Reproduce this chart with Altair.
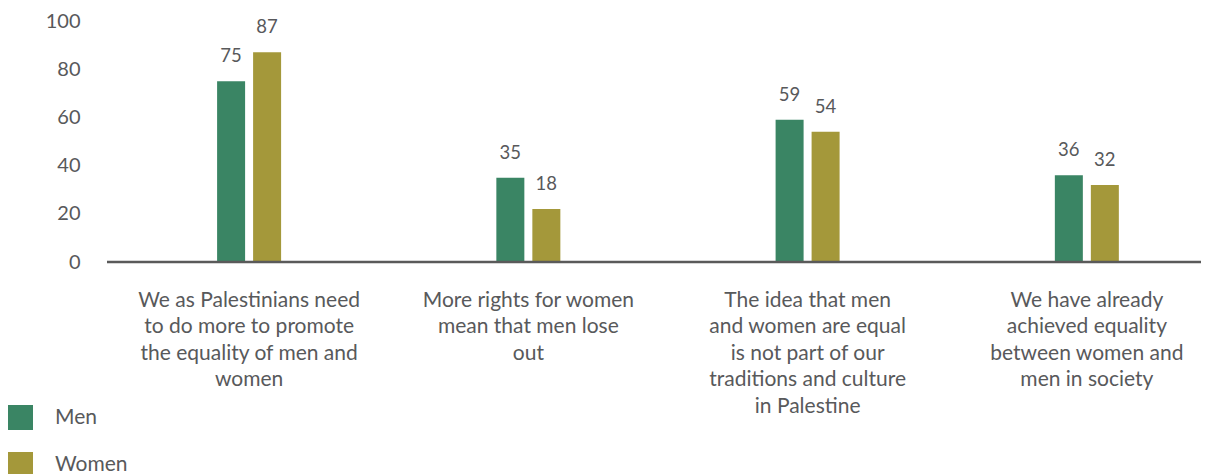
import altair as alt
import pandas as pd

categories = [
    "We as Palestinians need\nto do more to promote\nthe equality of men and\nwomen",
    "More rights for women\nmean that men lose\nout",
    "The idea that men\nand women are equal\nis not part of our\ntraditions and culture\nin Palestine",
    "We have already\nachieved equality\nbetween women and\nmen in society",
]
groups = ["Men", "Women"]
men_bar = [75, 35, 59, 36]
women_bar = [87, 22, 54, 32]
men_label = [75, 35, 59, 36]
women_label = [87, 18, 54, 32]
y_ticks = [0, 20, 40, 60, 80, 100]
colors = ["#3A8564", "#A4983A"]

rows = []
for i, c in enumerate(categories):
    rows.append({"cat": c, "g": "Men", "v": men_bar[i], "lab": str(men_label[i])})
    rows.append({"cat": c, "g": "Women", "v": women_bar[i], "lab": str(women_label[i])})
df = pd.DataFrame(rows)

FONT = "Lato"
TXT = "#58595B"
W, H = 1094, 241

x = alt.X("cat:N", sort=categories, title=None,
          scale=alt.Scale(range=[2.5, 1119.5], paddingInner=0, paddingOuter=0),
          axis=alt.Axis(labelAngle=0, ticks=False, domain=False, labelPadding=27,
                        labelExpr="split(datum.label, '\\n')", labelLineHeight=26.5,
                        labelFontSize=21, labelColor=TXT, labelFont=FONT, labelLimit=0))
xo = alt.XOffset("g:N", sort=groups,
                 scale=alt.Scale(range=[107.6, 171.6], paddingInner=0.2222, paddingOuter=0))
y = alt.Y("v:Q", title=None,
          scale=alt.Scale(domain=[0, 100], nice=False),
          axis=alt.Axis(values=y_ticks, domain=False, ticks=False, grid=False,
                        labelPadding=27, labelFontSize=20, labelColor=TXT, labelFont=FONT))

bars = alt.Chart(df).mark_bar().encode(
    x=x, xOffset=xo, y=y,
    color=alt.Color("g:N", sort=groups,
                    scale=alt.Scale(domain=groups, range=colors),
                    legend=alt.Legend(title=None, orient="none", legendX=-99, legendY=384,
                                      symbolType="square", symbolSize=625,
                                      symbolStrokeWidth=0, labelFontSize=21,
                                      labelFont=FONT, labelColor=TXT, labelOffset=22,
                                      rowPadding=22, padding=0, direction="vertical")),
)

labels = alt.Chart(df).mark_text(dy=-25, fontSize=18.5, font=FONT, color=TXT,
                                 baseline="middle").encode(
    x=alt.X("cat:N", sort=categories), xOffset=alt.XOffset("g:N", sort=groups),
    y=alt.Y("v:Q"), text="lab:N",
)

base = alt.Chart(pd.DataFrame({"z": [0]})).mark_rule(color="#5A5A5A", strokeWidth=2.5).encode(
    y=alt.Y("z:Q"), x=alt.value(0), x2=alt.value(W),
)

chart = alt.layer(bars, labels, base).properties(
    width=W, height=H,
    autosize=alt.AutoSizeParams(type="none"),
    padding={"left": 99, "top": 13, "right": 0, "bottom": 212},
).configure_view(stroke=None)

chart.save("out.html", embed_options={"renderer": "svg", "actions": False})
